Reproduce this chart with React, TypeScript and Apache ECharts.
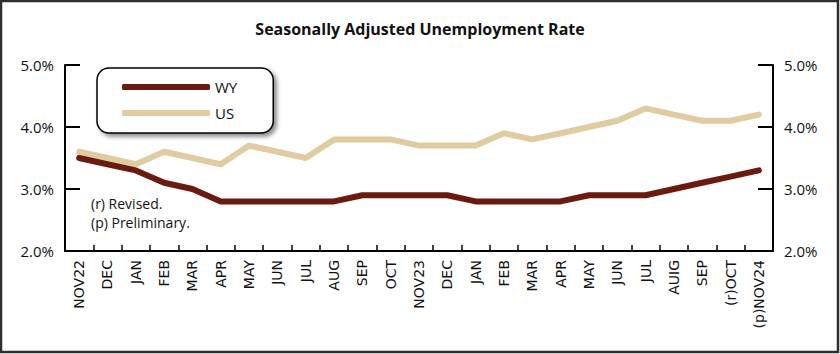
import React, { useEffect, useRef } from "react";
import * as echarts from "echarts";

const categories = [
  "NOV22", "DEC", "JAN", "FEB", "MAR", "APR", "MAY", "JUN", "JUL", "AUG", "SEP", "OCT",
  "NOV23", "DEC", "JAN", "FEB", "MAR", "APR", "MAY", "JUN", "JUL", "AUIG", "SEP", "(r)OCT", "(p)NOV24",
];
const wyValues = [3.5, 3.4, 3.3, 3.1, 3.0, 2.8, 2.8, 2.8, 2.8, 2.8, 2.9, 2.9, 2.9, 2.9, 2.8, 2.8, 2.8, 2.8, 2.9, 2.9, 2.9, 3.0, 3.1, 3.2, 3.3];
const usValues = [3.6, 3.5, 3.4, 3.6, 3.5, 3.4, 3.7, 3.6, 3.5, 3.8, 3.8, 3.8, 3.7, 3.7, 3.7, 3.9, 3.8, 3.9, 4.0, 4.1, 4.3, 4.2, 4.1, 4.1, 4.2];
const title = "Seasonally Adjusted Unemployment Rate";
const notes = ["(r) Revised.", "(p) Preliminary."];

export default function App() {
  const ref = useRef<HTMLDivElement>(null);
  useEffect(() => {
    if (!ref.current) return;
    const chart = echarts.init(ref.current, null, { renderer: "svg" });
    const yAxisCommon = {
      type: "value",
      min: 2,
      max: 5,
      interval: 1,
      splitLine: { show: false },
      axisLine: { show: true, lineStyle: { color: "#000", width: 2 } },
      axisTick: { show: true, inside: true, length: 15, lineStyle: { color: "#000", width: 2 } },
      axisLabel: {
        fontFamily: "Open Sans",
        fontSize: 15,
        margin: 11,
        color: "#111",
        formatter: (v: number) => v.toFixed(1) + "%",
      },
    };
    chart.setOption({
      animation: false,
      backgroundColor: "#fff",
      title: {
        text: title,
        left: "center",
        top: 16,
        textStyle: { fontFamily: "Open Sans", fontWeight: "bold", fontSize: 16, color: "#111" },
      },
      legend: {
        left: 97,
        top: 68,
        orient: "vertical",
        icon: "roundRect",
        itemWidth: 88,
        itemHeight: 6,
        itemGap: 10,
        padding: [11, 36, 12, 25],
        backgroundColor: "#fff",
        borderColor: "#000",
        borderWidth: 1.5,
        borderRadius: 12,
        shadowBlur: 4,
        shadowColor: "rgba(0,0,0,0.45)",
        shadowOffsetX: 3,
        shadowOffsetY: 3,
        textStyle: { fontFamily: "Open Sans", fontSize: 15, color: "#111", padding: [0, 0, 0, 0], lineHeight: 16 },
        data: ["WY", "US"],
      },
      grid: { left: 65, right: 67, top: 65, bottom: 103, containLabel: false },
      xAxis: {
        type: "category",
        data: categories,
        boundaryGap: true,
        axisLine: { lineStyle: { color: "#000", width: 2 } },
        axisTick: { show: true, inside: true, length: 6, lineStyle: { color: "#000", width: 1.5 } },
        axisLabel: {
          rotate: 90,
          interval: 0,
          margin: 9,
          fontFamily: "DejaVu Sans",
          fontSize: 14,
          color: "#111",
        },
      },
      yAxis: [
        { ...yAxisCommon, position: "left" },
        { ...yAxisCommon, position: "right" },
      ],
      series: [
        {
          name: "WY",
          type: "line",
          data: wyValues,
          showSymbol: false,
          symbol: "none",
          lineStyle: { color: "#6b1a10", width: 6, cap: "round", join: "round" },
          itemStyle: { color: "#6b1a10" },
          z: 3,
        },
        {
          name: "US",
          type: "line",
          data: usValues,
          showSymbol: false,
          symbol: "none",
          lineStyle: { color: "#dfcca0", width: 6, cap: "round", join: "round" },
          itemStyle: { color: "#dfcca0" },
          z: 2,
        },
      ],
      graphic: [
        {
          type: "rect",
          shape: { x: 1, y: 1, width: 837, height: 351 },
          style: { fill: "none", stroke: "#2e2e2e", lineWidth: 2.5 },
          silent: true,
        },
        {
          type: "text",
          left: 91,
          top: 196,
          style: { text: notes[0], fontFamily: "Open Sans", fontSize: 14, fill: "#111" },
        },
        {
          type: "text",
          left: 91,
          top: 215,
          style: { text: notes[1], fontFamily: "Open Sans", fontSize: 14, fill: "#111" },
        },
      ],
    });
    return () => chart.dispose();
  }, []);
  return (
    <div style={{ position: "absolute", left: 0, top: 0 }}>
      <div ref={ref} style={{ width: 840, height: 354 }} />
    </div>
  );
}
